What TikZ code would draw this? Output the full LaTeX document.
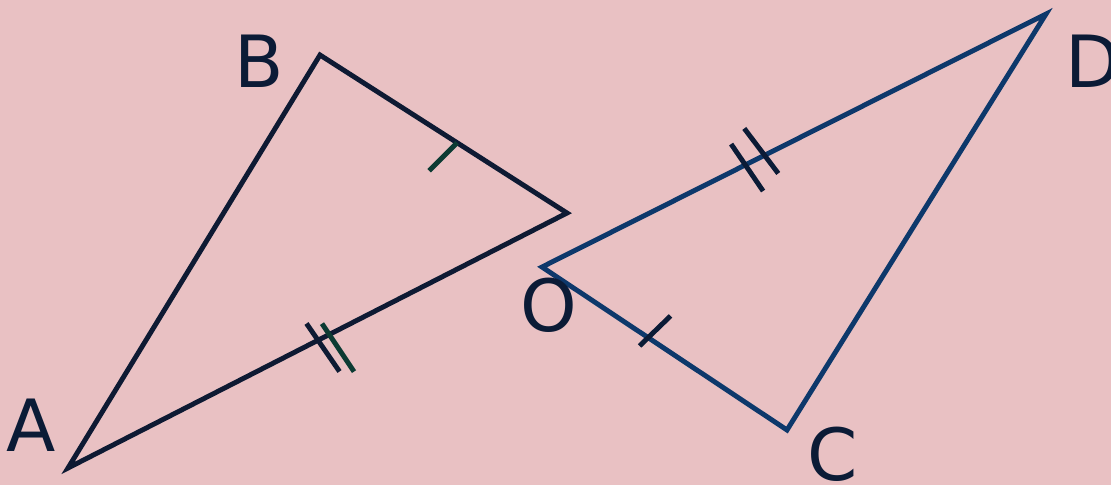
\documentclass[tikz,border=0pt]{standalone}
\usepackage{fontspec}
\setmainfont{DejaVu Sans}
\usetikzlibrary{calc}
\definecolor{bgPink}{HTML}{E9C1C3}
\definecolor{triNavy}{HTML}{0E1A33}
\definecolor{triBlue}{HTML}{0D386B}
\definecolor{tickGreen}{HTML}{0C3B33}
\definecolor{labelInk}{HTML}{0B1B36}

\begin{document}
\begin{tikzpicture}[x=0.2mm, y=-0.2mm,
    tri/.style={line width=2.8pt, line join=miter},
    tick/.style={line width=2.8pt},
    vlabel/.style={inner sep=0pt, text=labelInk, font=\fontsize{41}{41}\selectfont}
  ]
  % background
  \fill[bgPink] (0,0) rectangle (1111,485);
  \useasboundingbox (0,0) rectangle (1111,485);

  % vertices
  \coordinate (vA) at (68,468);
  \coordinate (vB) at (320,55);
  \coordinate (vO1) at (567,213);
  \coordinate (vO2) at (542,267);
  \coordinate (vD) at (1046,14);
  \coordinate (vC) at (787,430);

  % triangles
  \draw[tri, triNavy] (vA) -- (vB) -- (vO1) -- cycle;
  \draw[tri, triBlue] (vO2) -- (vD) -- (vC) -- cycle;

  % equal marks
  \draw[tick, tickGreen] ($(vB)!0.555!(vO1)$) -- ++(-28,28);
  \draw[tick, triNavy] ($(vA)!0.500!(vO1)$) ++(-11,-17) -- ++(33,48);
  \draw[tick, tickGreen] ($(vA)!0.523!(vO1)$) ++(-7,-11) -- ++(32,48);
  \draw[tick, labelInk] ($(vO2)!0.403!(vD)$) ++(-14,-21) -- ++(32,47);
  \draw[tick, labelInk] ($(vO2)!0.441!(vD)$) ++(-20,-27) -- ++(34,45);
  \draw[tick, labelInk] ($(vO2)!0.435!(vC)$) ++(22,-22) -- ++(-31,30);

  % labels
  \node[vlabel] (lA) at (31,425) {A};
  \node[vlabel] (lB) at (259,61) {B};
  \node[vlabel] (lO) at (549,305) {O};
  \node[vlabel] (lC) at (833,454) {C};
  \node[vlabel] (lD) at (1093,61) {D};
\end{tikzpicture}
\end{document}
